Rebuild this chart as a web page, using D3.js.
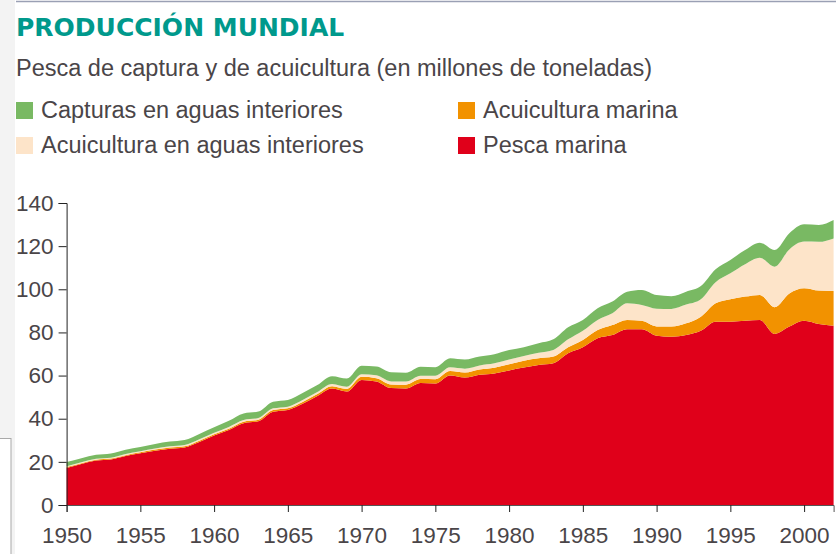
<!DOCTYPE html>
<html>
<head>
<meta charset="utf-8">
<script src="https://cdn.jsdelivr.net/npm/d3@7"></script>
<style>
  body { margin: 0; background: #fff; }
  svg { display: block; }
</style>
</head>
<body>
<svg id="graph" width="836" height="554"></svg>
<script>
// years on the x axis
var years = d3.range(1950, 2003);

// millions of tonnes
var pescaMarina = [17.2, 19.0, 20.6, 21.1, 22.7, 24.0, 25.2, 26.1, 26.7, 29.2,
  32.2, 34.8, 37.9, 38.8, 43.2, 44.0, 46.9, 50.5, 54.0, 52.6,
  58.0, 57.3, 54.2, 54.0, 56.6, 56.3, 60.0, 59.1, 60.4, 61.0,
  62.4, 63.7, 64.9, 65.7, 70.3, 73.1, 77.3, 78.8, 81.5, 81.5,
  78.5, 78.0, 78.8, 80.8, 85.0, 85.0, 85.4, 85.8, 79.3, 82.7,
  85.4, 83.9, 83.1];
var acuiculturaMarina = [0.4, 0.4, 0.4, 0.4, 0.4, 0.4, 0.5, 0.5, 0.5, 0.6,
  0.6, 0.6, 0.7, 0.7, 0.8, 0.8, 0.9, 1.0, 1.1, 1.2,
  1.4, 1.5, 1.7, 1.8, 1.8, 2.0, 2.1, 2.3, 2.4, 2.6,
  2.8, 3.2, 3.1, 3.1, 2.8, 3.4, 3.8, 4.6, 4.3, 3.9,
  4.3, 4.7, 5.4, 6.5, 8.5, 10.4, 11.2, 11.6, 12.4, 15.4,
  15.1, 15.5, 16.1];
var acuiculturaInterior = [0.4, 0.4, 0.4, 0.4, 0.5, 0.5, 0.5, 0.6, 0.6, 0.7,
  0.7, 0.8, 0.8, 0.8, 0.8, 0.8, 0.9, 0.9, 1.0, 1.0,
  1.2, 1.3, 1.4, 1.4, 1.5, 1.6, 1.7, 1.8, 1.9, 2.1,
  2.3, 2.2, 2.6, 3.1, 3.7, 4.3, 4.7, 5.5, 7.7, 7.3,
  8.2, 8.2, 8.7, 8.1, 9.8, 12.0, 15.0, 17.2, 18.8, 20.4,
  21.6, 22.6, 24.4];
var capturasInterior = [1.9, 1.9, 1.9, 2.0, 2.0, 2.0, 2.1, 2.2, 2.3, 2.4,
  2.5, 2.8, 3.0, 3.0, 3.1, 3.1, 3.2, 3.2, 3.6, 3.8,
  3.9, 4.1, 4.2, 4.1, 4.2, 4.0, 4.2, 4.2, 4.1, 4.2,
  4.3, 4.0, 4.4, 4.9, 5.6, 5.0, 5.4, 5.4, 5.4, 7.0,
  6.3, 5.9, 6.0, 6.1, 6.0, 6.2, 6.6, 7.0, 7.7, 7.5,
  8.0, 7.8, 8.5];

var yTicks = [0, 20, 40, 60, 80, 100, 120, 140];
var xTicks = [1950, 1955, 1960, 1965, 1970, 1975, 1980, 1985, 1990, 1995, 2000];

// bottom to top, the way they are stacked
var keys = ["pescaMarina", "acuiculturaMarina", "acuiculturaInterior", "capturasInterior"];
var colors = {
  pescaMarina: "#e0001a",
  acuiculturaMarina: "#f29200",
  acuiculturaInterior: "#fde4c9",
  capturasInterior: "#79b963"
};
var legend = [
  {key: "capturasInterior", label: "Capturas en aguas interiores", col: 0, row: 0},
  {key: "acuiculturaInterior", label: "Acuicultura en aguas interiores", col: 0, row: 1},
  {key: "acuiculturaMarina", label: "Acuicultura marina", col: 1, row: 0},
  {key: "pescaMarina", label: "Pesca marina", col: 1, row: 1}
];

var table = years.map(function (y, i) {
  return {
    year: y,
    pescaMarina: pescaMarina[i],
    acuiculturaMarina: acuiculturaMarina[i],
    acuiculturaInterior: acuiculturaInterior[i],
    capturasInterior: capturasInterior[i]
  };
});

var svg = d3.select("#graph");
var textColor = "#4a4548";
var font = "'Liberation Sans', Arial, sans-serif";

// page bits round the chart
svg.append("rect").attr("x", 0).attr("y", 0).attr("width", 15).attr("height", 554).attr("fill", "#f3f3f3");
svg.append("rect").attr("x", -2).attr("y", 438.5).attr("width", 13).attr("height", 120)
  .attr("fill", "#fff").attr("stroke", "#a9a9a9");
svg.append("line").attr("x1", 16).attr("x2", 836).attr("y1", 1.5).attr("y2", 1.5)
  .attr("stroke", "#9aa0b4").attr("stroke-width", 1.5);

// title + subtitle
svg.append("text")
  .attr("x", 16).attr("y", 36)
  .text("PRODUCCIÓN MUNDIAL")
  .style("font-family", "'DejaVu Sans', Verdana, sans-serif")
  .style("font-weight", "bold")
  .style("font-size", "25px")
  .style("fill", "#00998c");

svg.append("text")
  .attr("x", 16).attr("y", 76)
  .text("Pesca de captura y de acuicultura (en millones de toneladas)")
  .style("font-family", font)
  .style("font-size", "23.5px")
  .style("fill", textColor);

// legend
var lg = svg.append("g").selectAll("g").data(legend).enter().append("g")
  .attr("transform", function (d) { return "translate(" + (16 + d.col * 442) + "," + (102 + d.row * 35) + ")"; });
lg.append("rect").attr("width", 17).attr("height", 17)
  .attr("fill", function (d) { return colors[d.key]; });
lg.append("text")
  .attr("x", 25).attr("y", 16)
  .text(function (d) { return d.label; })
  .style("font-family", font)
  .style("font-size", "23.5px")
  .style("fill", textColor);

// chart
var margin = {left: 66.6, right: 2.4, top: 203, bottom: 49};
var x = d3.scaleLinear().domain([1950, 2002]).range([margin.left, 836 - margin.right]);
var y = d3.scaleLinear().domain([0, 140]).range([554 - margin.bottom, margin.top]);

var series = d3.stack().keys(keys)(table);
var area = d3.area()
  .curve(d3.curveMonotoneX)
  .x(function (d) { return x(d.data.year); })
  .y0(function (d) { return y(d[0]); })
  .y1(function (d) { return y(d[1]); });

svg.append("g").selectAll("path").data(series).enter().append("path")
  .attr("d", area)
  .attr("fill", function (d) { return colors[d.key]; });

var xAxis = svg.append("g")
  .attr("transform", "translate(0," + y(0) + ")")
  .call(d3.axisBottom(x).tickValues(xTicks).tickFormat(d3.format("d")).tickSizeOuter(0).tickSize(7).tickPadding(15));
var yAxis = svg.append("g")
  .attr("transform", "translate(" + x(1950) + ",0)")
  .call(d3.axisLeft(y).tickValues(yTicks).tickSizeOuter(0).tickSize(8).tickPadding(5));

[xAxis, yAxis].forEach(function (ax) {
  ax.selectAll("path, line").attr("stroke", "#222");
  ax.selectAll("text")
    .style("font-family", font)
    .style("font-size", "22.5px")
    .style("fill", textColor);
});
xAxis.select(".domain").attr("stroke", "#555");
</script>
</body>
</html>
